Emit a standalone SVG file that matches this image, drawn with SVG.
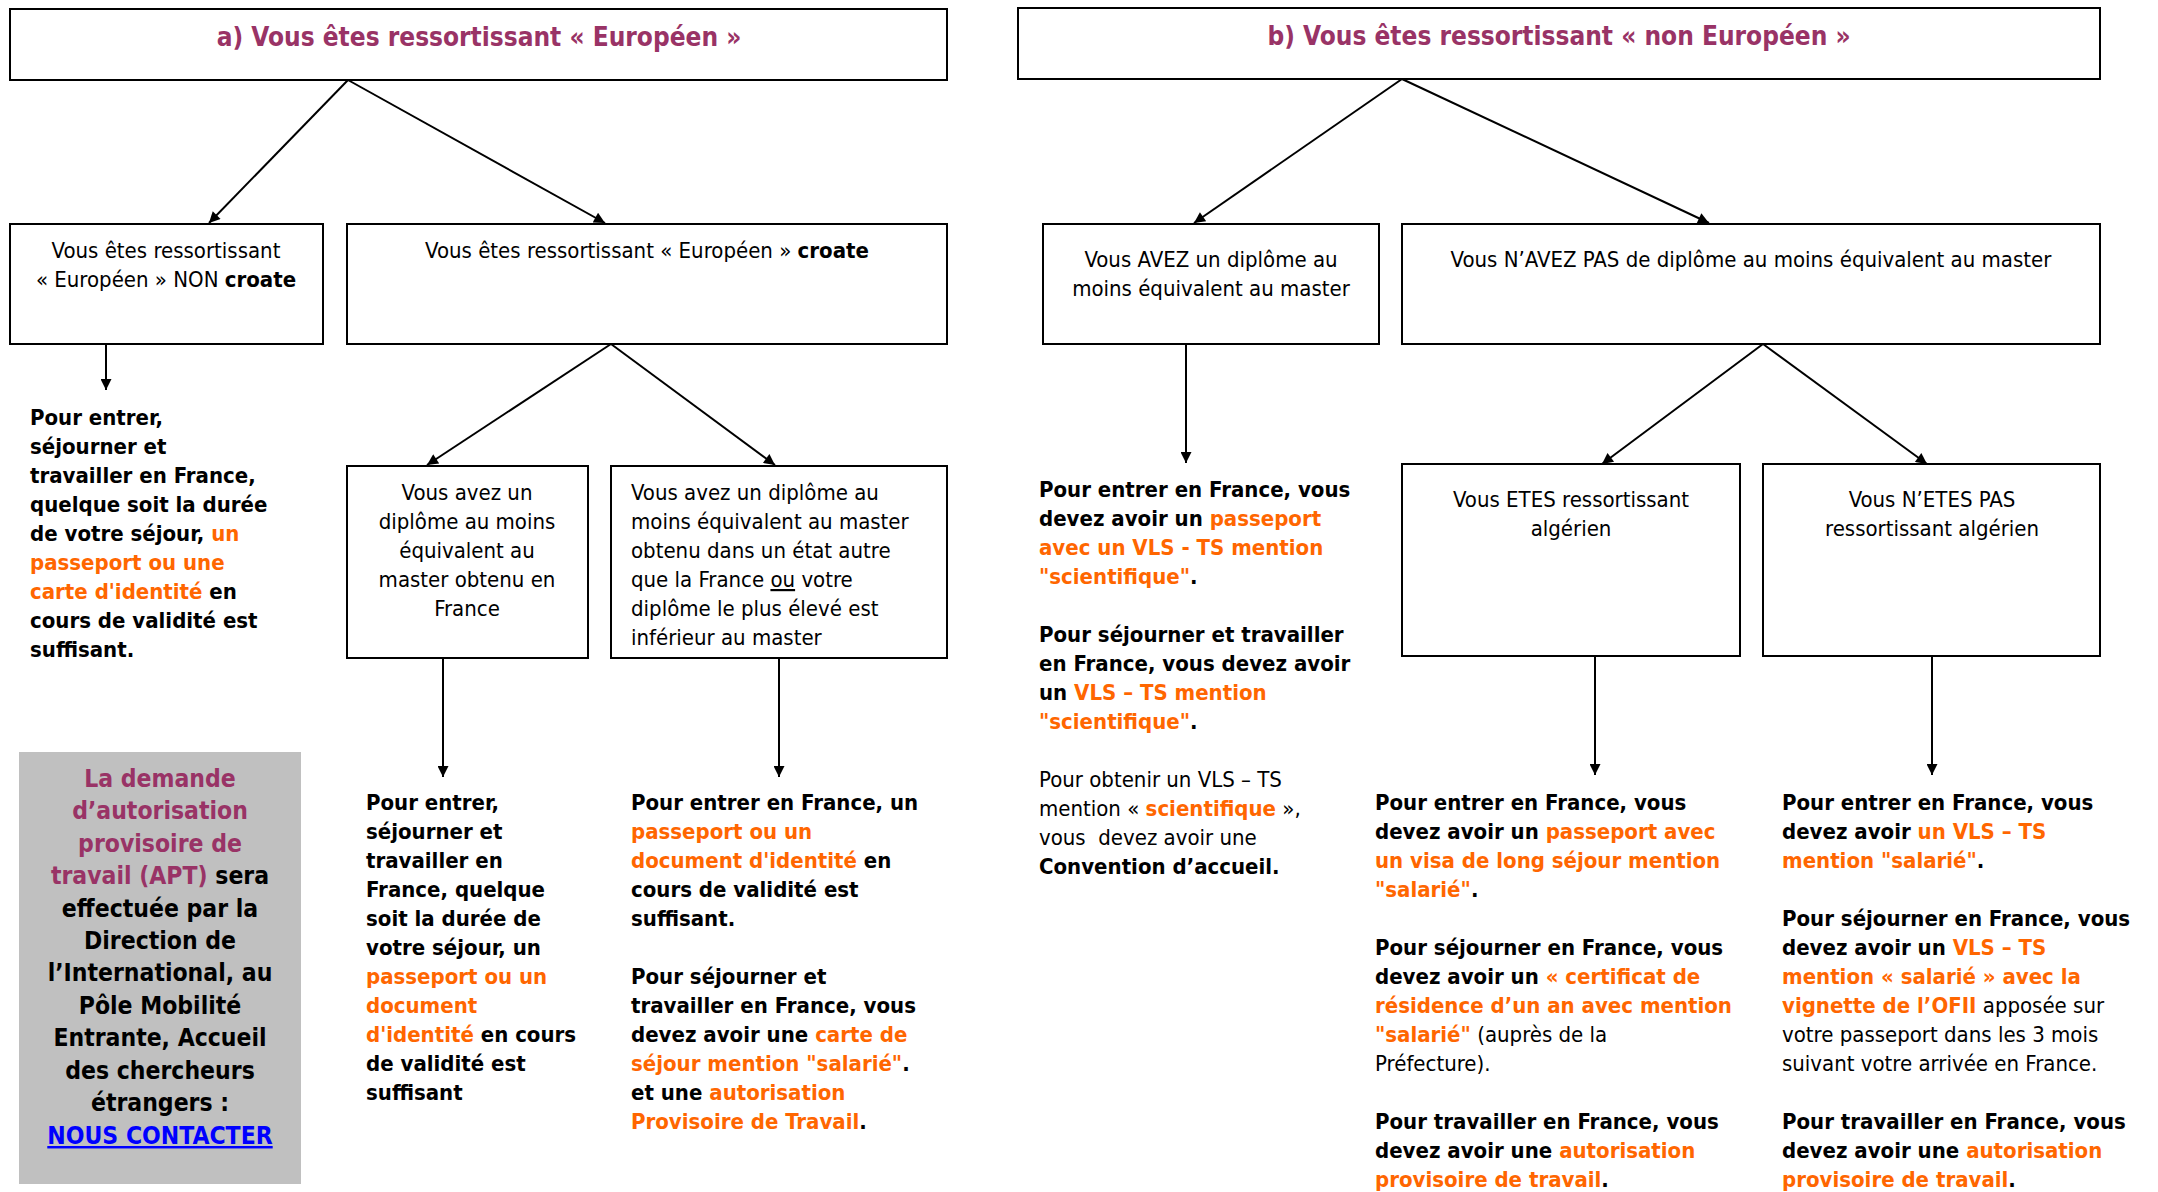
<svg xmlns="http://www.w3.org/2000/svg" width="2158" height="1192" viewBox="0 0 2158 1192">
<style>
text{font-family:"DejaVu Sans Condensed","DejaVu Sans",sans-serif;font-stretch:condensed;font-size:22px;fill:#000}
.box{fill:#fff;stroke:#000;stroke-width:2}
.t{font-size:26px;font-weight:bold;fill:#993366;text-anchor:middle}
.c{text-anchor:middle}
.b{font-weight:bold}
.r{font-weight:normal}
.o{fill:#FF6600}
.p{fill:#993366}
.g{font-size:24.5px;font-weight:bold;text-anchor:middle}
.lk{fill:#0000FF;text-decoration:underline}
.con{stroke:#000;stroke-width:2;fill:none;marker-end:url(#ah)}
</style>
<defs>
<marker id="ah" viewBox="0 0 10 10" refX="10" refY="5" markerUnits="userSpaceOnUse" markerWidth="16" markerHeight="11" orient="auto">
<path d="M0,0 L10,5 L0,10 z" fill="#000"/>
</marker>
</defs>
<rect width="2158" height="1192" fill="#fff"/>

<g id="connectors">
<line class="con" x1="348" y1="80" x2="209" y2="223"/>
<line class="con" x1="348" y1="80" x2="605" y2="223"/>
<line class="con" x1="106" y1="344" x2="106" y2="390"/>
<line class="con" x1="611" y1="344" x2="427" y2="465"/>
<line class="con" x1="611" y1="344" x2="775" y2="465"/>
<line class="con" x1="443" y1="658" x2="443" y2="777"/>
<line class="con" x1="779" y1="658" x2="779" y2="777"/>
<line class="con" x1="1402" y1="79" x2="1194" y2="223"/>
<line class="con" x1="1402" y1="79" x2="1709" y2="223"/>
<line class="con" x1="1186" y1="344" x2="1186" y2="463"/>
<line class="con" x1="1763" y1="344" x2="1602" y2="464"/>
<line class="con" x1="1763" y1="344" x2="1927" y2="464"/>
<line class="con" x1="1595" y1="656" x2="1595" y2="775"/>
<line class="con" x1="1932" y1="656" x2="1932" y2="775"/>
</g>

<g id="nodeA">
<rect class="box" x="10" y="9" width="937" height="71"/>
<text class="t" x="479" y="46">a) Vous êtes ressortissant « Européen »</text>
</g>

<g id="nodeB">
<rect class="box" x="1018" y="8" width="1082" height="71"/>
<text class="t" x="1559" y="45">b) Vous êtes ressortissant « non Européen »</text>
</g>

<g id="nodeNonCroate">
<rect class="box" x="10" y="224" width="313" height="120"/>
<text class="c" x="166" y="258">Vous êtes ressortissant</text>
<text class="c" x="166" y="287">« Européen » NON <tspan class="b">croate</tspan></text>
</g>

<g id="nodeCroate">
<rect class="box" x="347" y="224" width="600" height="120"/>
<text class="c" x="647" y="258">Vous êtes ressortissant « Européen » <tspan class="b">croate</tspan></text>
</g>

<g id="textNonCroate">
<text class="b" x="30" y="425">Pour entrer,</text>
<text class="b" x="30" y="454">séjourner et</text>
<text class="b" x="30" y="483">travailler en France,</text>
<text class="b" x="30" y="512">quelque soit la durée</text>
<text class="b" x="30" y="541">de votre séjour, <tspan class="o">un</tspan></text>
<text class="b o" x="30" y="570">passeport ou une</text>
<text class="b" x="30" y="599"><tspan class="o">carte d'identité</tspan> en</text>
<text class="b" x="30" y="628">cours de validité est</text>
<text class="b" x="30" y="657">suffisant.</text>
</g>

<g id="nodeMasterFrance">
<rect class="box" x="347" y="466" width="241" height="192"/>
<text class="c" x="467" y="500">Vous avez un</text>
<text class="c" x="467" y="529">diplôme au moins</text>
<text class="c" x="467" y="558">équivalent au</text>
<text class="c" x="467" y="587">master obtenu en</text>
<text class="c" x="467" y="616">France</text>
</g>

<g id="nodeMasterAutre">
<rect class="box" x="611" y="466" width="336" height="192"/>
<text x="631" y="500">Vous avez un diplôme au</text>
<text x="631" y="529">moins équivalent au master</text>
<text x="631" y="558">obtenu dans un état autre</text>
<text x="631" y="587">que la France <tspan text-decoration="underline">ou</tspan> votre</text>
<text x="631" y="616">diplôme le plus élevé est</text>
<text x="631" y="645">inférieur au master</text>
</g>

<g id="textMasterFrance">
<text class="b" x="366" y="810">Pour entrer,</text>
<text class="b" x="366" y="839">séjourner et</text>
<text class="b" x="366" y="868">travailler en</text>
<text class="b" x="366" y="897">France, quelque</text>
<text class="b" x="366" y="926">soit la durée de</text>
<text class="b" x="366" y="955">votre séjour, un</text>
<text class="b o" x="366" y="984">passeport ou un</text>
<text class="b o" x="366" y="1013">document</text>
<text class="b" x="366" y="1042"><tspan class="o">d'identité</tspan> en cours</text>
<text class="b" x="366" y="1071">de validité est</text>
<text class="b" x="366" y="1100">suffisant</text>
</g>

<g id="textMasterAutre">
<text class="b" x="631" y="810">Pour entrer en France, un</text>
<text class="b o" x="631" y="839">passeport ou un</text>
<text class="b" x="631" y="868"><tspan class="o">document d'identité</tspan> en</text>
<text class="b" x="631" y="897">cours de validité est</text>
<text class="b" x="631" y="926">suffisant.</text>
<text class="b" x="631" y="984">Pour séjourner et</text>
<text class="b" x="631" y="1013">travailler en France, vous</text>
<text class="b" x="631" y="1042">devez avoir une <tspan class="o">carte de</tspan></text>
<text class="b" x="631" y="1071"><tspan class="o">séjour mention "salarié"</tspan>.</text>
<text class="b" x="631" y="1100">et une <tspan class="o">autorisation</tspan></text>
<text class="b" x="631" y="1129"><tspan class="o">Provisoire de Travail</tspan>.</text>
</g>

<g id="apt">
<rect x="19" y="752" width="282" height="432" fill="#C0C0C0"/>
<text class="g p" x="160" y="787">La demande</text>
<text class="g p" x="160" y="819">d’autorisation</text>
<text class="g p" x="160" y="852">provisoire de</text>
<text class="g" x="160" y="884"><tspan class="p">travail (APT)</tspan> sera</text>
<text class="g" x="160" y="917">effectuée par la</text>
<text class="g" x="160" y="949">Direction de</text>
<text class="g" x="160" y="981">l’International, au</text>
<text class="g" x="160" y="1014">Pôle Mobilité</text>
<text class="g" x="160" y="1046">Entrante, Accueil</text>
<text class="g" x="160" y="1079">des chercheurs</text>
<text class="g" x="160" y="1111">étrangers :</text>
<text class="g lk" x="160" y="1144">NOUS CONTACTER</text>
</g>

<g id="nodeAvez">
<rect class="box" x="1043" y="224" width="336" height="120"/>
<text class="c" x="1211" y="267">Vous AVEZ un diplôme au</text>
<text class="c" x="1211" y="296">moins équivalent au master</text>
</g>

<g id="nodePasDiplome">
<rect class="box" x="1402" y="224" width="698" height="120"/>
<text class="c" x="1751" y="267">Vous N’AVEZ PAS de diplôme au moins équivalent au master</text>
</g>

<g id="textAvez">
<text class="b" x="1039" y="497">Pour entrer en France, vous</text>
<text class="b" x="1039" y="526">devez avoir un <tspan class="o">passeport</tspan></text>
<text class="b o" x="1039" y="555">avec un VLS - TS mention</text>
<text class="b" x="1039" y="584"><tspan class="o">"scientifique"</tspan>.</text>
<text class="b" x="1039" y="642">Pour séjourner et travailler</text>
<text class="b" x="1039" y="671">en France, vous devez avoir</text>
<text class="b" x="1039" y="700">un <tspan class="o">VLS – TS mention</tspan></text>
<text class="b" x="1039" y="729"><tspan class="o">"scientifique"</tspan>.</text>
<text x="1039" y="787">Pour obtenir un VLS – TS</text>
<text x="1039" y="816">mention « <tspan class="b o">scientifique</tspan> »,</text>
<text x="1039" y="845" xml:space="preserve">vous  devez avoir une</text>
<text class="b" x="1039" y="874">Convention d’accueil.</text>
</g>

<g id="nodeAlgerien">
<rect class="box" x="1402" y="464" width="338" height="192"/>
<text class="c" x="1571" y="507">Vous ETES ressortissant</text>
<text class="c" x="1571" y="536">algérien</text>
</g>

<g id="nodeNonAlgerien">
<rect class="box" x="1763" y="464" width="337" height="192"/>
<text class="c" x="1932" y="507">Vous N’ETES PAS</text>
<text class="c" x="1932" y="536">ressortissant algérien</text>
</g>

<g id="textAlgerien">
<text class="b" x="1375" y="810">Pour entrer en France, vous</text>
<text class="b" x="1375" y="839">devez avoir un <tspan class="o">passeport avec</tspan></text>
<text class="b o" x="1375" y="868">un visa de long séjour mention</text>
<text class="b" x="1375" y="897"><tspan class="o">"salarié"</tspan>.</text>
<text class="b" x="1375" y="955">Pour séjourner en France, vous</text>
<text class="b" x="1375" y="984">devez avoir un <tspan class="o">« certificat de</tspan></text>
<text class="b o" x="1375" y="1013">résidence d’un an avec mention</text>
<text class="b" x="1375" y="1042"><tspan class="o">"salarié"</tspan><tspan class="r"> (auprès de la</tspan></text>
<text x="1375" y="1071">Préfecture).</text>
<text class="b" x="1375" y="1129">Pour travailler en France, vous</text>
<text class="b" x="1375" y="1158">devez avoir une <tspan class="o">autorisation</tspan></text>
<text class="b" x="1375" y="1187"><tspan class="o">provisoire de travail</tspan>.</text>
</g>

<g id="textNonAlgerien">
<text class="b" x="1782" y="810">Pour entrer en France, vous</text>
<text class="b" x="1782" y="839">devez avoir <tspan class="o">un VLS – TS</tspan></text>
<text class="b" x="1782" y="868"><tspan class="o">mention "salarié"</tspan>.</text>
<text class="b" x="1782" y="926">Pour séjourner en France, vous</text>
<text class="b" x="1782" y="955">devez avoir un <tspan class="o">VLS – TS</tspan></text>
<text class="b o" x="1782" y="984">mention « salarié » avec la</text>
<text class="b" x="1782" y="1013"><tspan class="o">vignette de l’OFII</tspan><tspan class="r"> apposée sur</tspan></text>
<text x="1782" y="1042">votre passeport dans les 3 mois</text>
<text x="1782" y="1071">suivant votre arrivée en France.</text>
<text class="b" x="1782" y="1129">Pour travailler en France, vous</text>
<text class="b" x="1782" y="1158">devez avoir une <tspan class="o">autorisation</tspan></text>
<text class="b" x="1782" y="1187"><tspan class="o">provisoire de travail</tspan>.</text>
</g>
</svg>
